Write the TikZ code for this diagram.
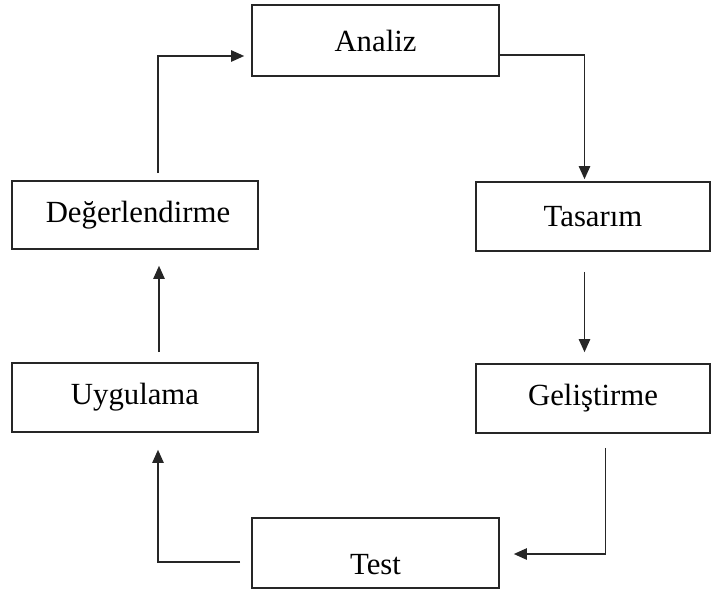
\documentclass[tikz,border=0pt]{standalone}
\usepackage{fontspec}
\setmainfont{Liberation Serif}
\usetikzlibrary{arrows.meta}
\begin{document}
\begin{tikzpicture}[
		stage/.style={draw=black!85,line width=0.9pt,minimum height=1.38cm,fill=white},
		flow/.style={draw=black!85,line width=0.9pt,-{Triangle[length=7.5pt,width=6.5pt]}}
	]
			\newcommand{\mystagefont}[1]{
				\fontsize{17.5}{20}\selectfont{#1}
			}%Page frame
			\useasboundingbox (0,0) rectangle (14.24,-11.92);
			%Centres of the stages
			\coordinate (cAnaliz) at (7.51,-0.81);
			\coordinate (cTasarim) at (11.86,-4.33);
			\coordinate (cGelistirme) at (11.86,-7.97);
			\coordinate (cTest) at (7.51,-11.06);
			\coordinate (cUygulama) at (2.70,-7.95);
			\coordinate (cDeger) at (2.70,-4.30);
			%Stages of the cycle
			\node [stage,minimum width=4.94cm,minimum height=1.42cm] (analiz) at (cAnaliz) {\mystagefont{Analiz}};
			\node [stage,minimum width=4.68cm] (tasarim) at (cTasarim) {\mystagefont{Tasarım}};
			\node [stage,minimum width=4.68cm] (gelistirme) at (cGelistirme) {\mystagefont{Geliştirme}};
			\node [stage,minimum width=4.94cm,minimum height=1.40cm,text height=0.85cm,text depth=0cm] (test) at (cTest) {\mystagefont{Test}};
			\node [stage,minimum width=4.92cm] (uygulama) at (cUygulama) {\mystagefont{Uygulama}};
			\node [stage,minimum width=4.92cm,minimum height=1.36cm] (deger) at (cDeger) {\mystagefont{\hspace{0.12cm}Değerlendirme}};
			%Arrows round the cycle
			\draw [flow] ([yshift=-0.29cm]analiz.east) -| ([xshift=-0.17cm,yshift=0.04cm]tasarim.north);
			\draw [flow] ([xshift=-0.17cm,yshift=-0.40cm]tasarim.south) -- ([xshift=-0.17cm,yshift=0.22cm]gelistirme.north);
			\draw [flow] ([xshift=0.25cm,yshift=-0.28cm]gelistirme.south) |- ([xshift=0.28cm,yshift=-0.02cm]test.east);
			\draw [flow] ([xshift=-0.22cm,yshift=-0.18cm]test.west) -| ([xshift=0.46cm,yshift=-0.34cm]uygulama.south);
			\draw [flow] ([xshift=0.48cm,yshift=0.20cm]uygulama.north) -- ([xshift=0.48cm,yshift=-0.32cm]deger.south);
			\draw [flow] ([xshift=0.46cm,yshift=0.14cm]deger.north) |- ([xshift=-0.14cm,yshift=-0.31cm]analiz.west);
\end{tikzpicture}
\end{document}
